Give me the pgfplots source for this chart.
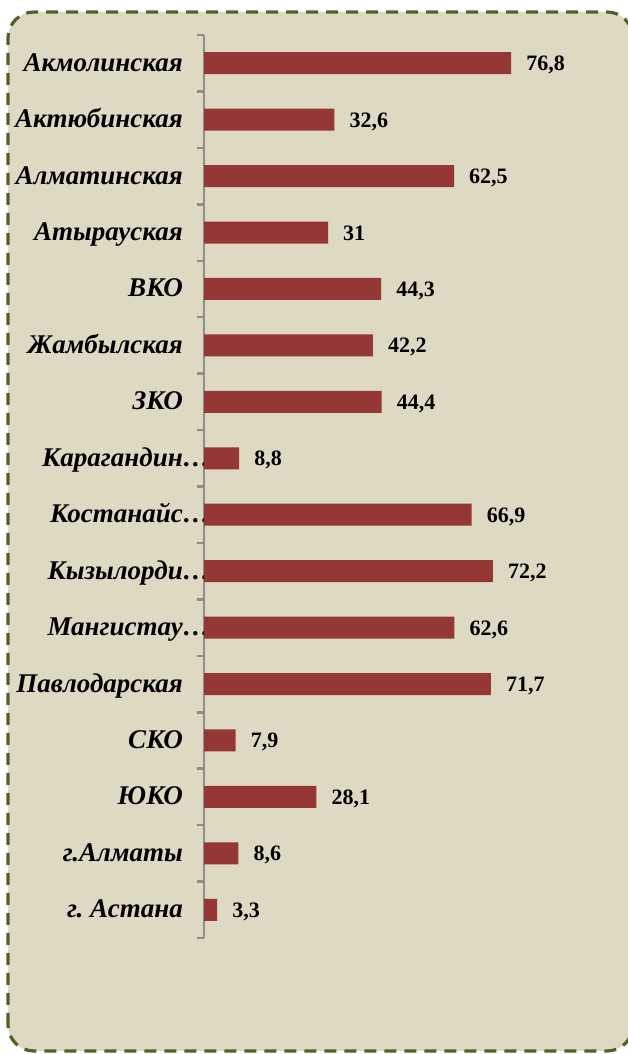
\documentclass[border=0pt]{standalone}
\usepackage{fontspec}
\setmainfont{Liberation Serif}
\usepackage{pgfplots}
\pgfplotsset{compat=1.18}
\definecolor{bgc}{HTML}{DDD9C3}
\definecolor{barc}{HTML}{953735}
\definecolor{frm}{HTML}{4F6228}
\definecolor{axg}{HTML}{8E8E8E}
\begin{document}
\begin{tikzpicture}
\useasboundingbox (0bp,0bp) rectangle (628bp,1054bp);
\begin{scope}
\clip (0bp,0bp) rectangle (628bp,1054bp);
\draw[fill=bgc, draw=frm, line width=3.2bp, dash pattern=on 12bp off 8bp, rounded corners=26bp] (8bp,3bp) rectangle (633bp,1042bp);
\end{scope}
\begin{axis}[
 at={(204bp,116bp)}, anchor=south west,
 scale only axis, width=400bp, height=903bp,
 xmin=0, xmax=100, ymin=-0.5, ymax=15.5, y dir=reverse,
 axis x line=none, axis y line=left,
 axis line style={axg, line width=2.5bp, -},
 ytick={0,...,15},
 yticklabels={Акмолинская,Актюбинская,Алматинская,Атырауская,ВКО,Жамбылская,ЗКО,{Карагандин\rlap{…}},{Костанайс\rlap{…}},{Кызылорди\rlap{…}},{Мангистау\rlap{…}},Павлодарская,СКО,ЮКО,г.Алматы,{г.\ Астана}},
 major tick length=0pt,
 minor ytick={-0.5,0.5,...,15.5},
 minor tick length=7bp,
 tick align=outside,
 minor tick style={axg, line width=2.5bp},
 yticklabel style={font=\fontsize{27bp}{31bp}\selectfont\bfseries\itshape, anchor=base east, inner sep=0pt, xshift=-21bp, yshift=-8bp, text=black},
 xbar, bar width=22bp,
 nodes near coords,
 nodes near coords style={font=\fontsize{22bp}{26bp}\selectfont\bfseries, anchor=base west, inner sep=0pt, xshift=15bp, yshift=-7.5bp, text=black},
 /pgf/number format/.cd, use comma, fixed, precision=1, assume math mode=true,
]
\addplot[fill=barc, draw=none] coordinates {(76.8,0) (32.6,1) (62.5,2) (31,3) (44.3,4) (42.2,5) (44.4,6) (8.8,7) (66.9,8) (72.2,9) (62.6,10) (71.7,11) (7.9,12) (28.1,13) (8.6,14) (3.3,15)};
\end{axis}
\end{tikzpicture}
\end{document}
